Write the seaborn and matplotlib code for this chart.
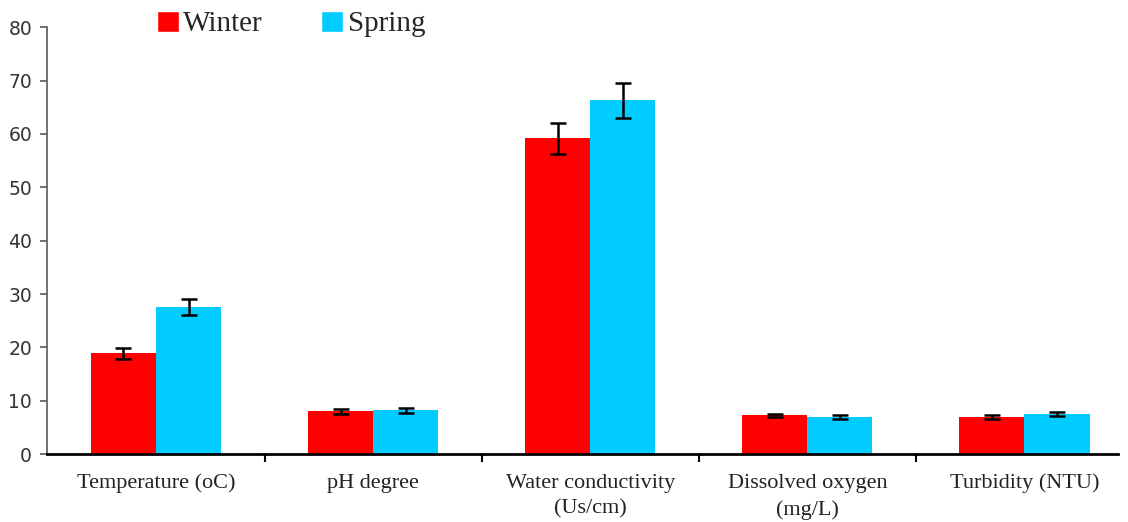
import numpy as np
import pandas as pd
import seaborn as sns
import matplotlib.pyplot as plt
from matplotlib.patches import Patch

categories = ["Temperature (oC)", "pH degree", "Water conductivity\n(Us/cm)",
              "Dissolved oxygen\n(mg/L)", "Turbidity (NTU)"]
seasons = ["Winter", "Spring"]
winter = [18.9, 8.0, 59.2, 7.3, 6.9]
spring = [27.5, 8.2, 66.3, 6.9, 7.5]
winter_err = [1.0, 0.5, 2.9, 0.3, 0.4]
spring_err = [1.5, 0.5, 3.3, 0.4, 0.4]
colors = ["#ff0000", "#00ccff"]

df = pd.DataFrame({
    "param": categories * 2,
    "season": ["Winter"] * 5 + ["Spring"] * 5,
    "value": winter + spring,
    "err": winter_err + spring_err,
})

sns.set_style("white")
plt.rcParams["font.family"] = ["Liberation Serif", "DejaVu Serif"]

fig = plt.figure(figsize=(11.28, 5.22), dpi=100)
ax = fig.add_axes([0.042, 0.130, 0.949, 0.818])

sns.barplot(data=df, x="param", y="value", hue="season", hue_order=seasons,
            palette=colors, width=0.6, errorbar=None, saturation=1,
            linewidth=0, ax=ax, legend=False)

# error bars on top of each bar
for i, s in enumerate(seasons):
    sub = df[df["season"] == s]
    bars = ax.containers[i]
    xs = [b.get_x() + b.get_width() / 2 for b in bars]
    ax.errorbar(xs, sub["value"], yerr=sub["err"], fmt="none", ecolor="black",
                elinewidth=1.8, capsize=5.5, capthick=1.8, zorder=5)

ax.set_xlim(-0.50, 4.43)
ax.set_ylim(0, 80)
ax.set_yticks(range(0, 81, 10))
ax.set_xticks(np.arange(0.5, 4, 1))
ax.set_xticklabels([])
ax.set_xticks(range(5), categories, minor=True)
ax.tick_params(axis="x", which="major", direction="out", length=6, width=1.5,
               bottom=True, color="black")
ax.tick_params(axis="x", which="minor", length=0, labelsize=16, pad=14,
               labelcolor="#222222")
ax.tick_params(axis="y", direction="out", length=5, width=1.2, left=True,
               labelsize=13.5, color="#595959", labelcolor="#333333", pad=6)
for lab in ax.get_yticklabels():
    lab.set_fontfamily("DejaVu Sans")
for lab in ax.get_xticklabels(minor=True):
    lab.set_linespacing(1.5)
ax.set_xlabel("")
ax.set_ylabel("")
sns.despine(ax=ax)
ax.spines["left"].set_color("#595959")
ax.spines["left"].set_linewidth(1.2)
ax.spines["bottom"].set_color("black")
ax.spines["bottom"].set_linewidth(2)

handles = [Patch(facecolor=c, label=s) for c, s in zip(colors, seasons)]
fig.legend(handles=handles, loc="upper center", bbox_to_anchor=(0.258, 1.03),
           ncol=2, frameon=False, fontsize=21, handlelength=0.75,
           handleheight=0.75, handletextpad=0.15, columnspacing=2.0)

fig.savefig("out.png", dpi=100)
